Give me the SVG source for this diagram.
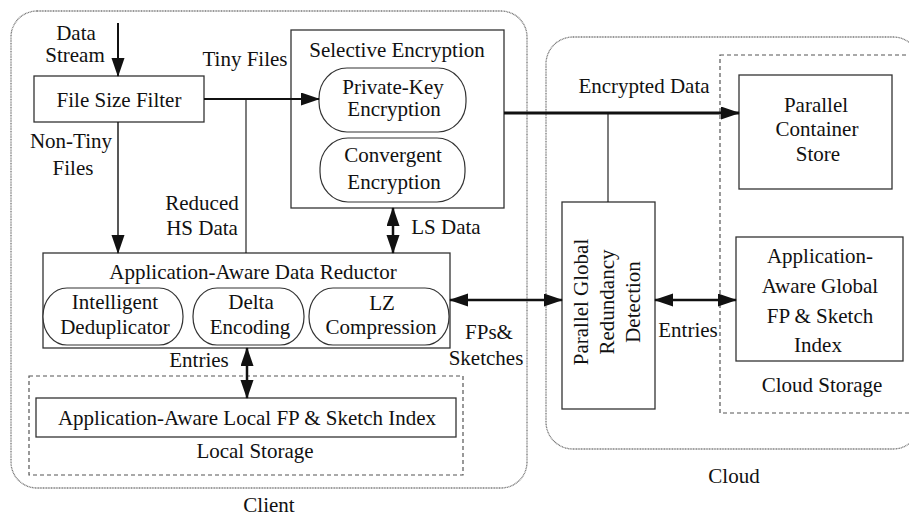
<svg xmlns="http://www.w3.org/2000/svg" width="909" height="517" viewBox="0 0 909 517">
<defs>
<style>
text{font-family:"Liberation Serif","Times New Roman",serif;font-size:21px;fill:#111;text-anchor:middle}
.box{fill:#fff;stroke:#333;stroke-width:1.3}
.pill{fill:#fff;stroke:#333;stroke-width:1.2}
.cont{fill:none;stroke:#777;stroke-width:1.3;stroke-dasharray:1 0.6}
.dash{fill:none;stroke:#555;stroke-width:1.2;stroke-dasharray:4 3}
.ln{fill:none;stroke:#111}
</style>
<marker id="ah" markerUnits="userSpaceOnUse" markerWidth="20" markerHeight="14" refX="18" refY="6.5" orient="auto-start-reverse">
<path d="M0,0 L19,6.5 L0,13 z" fill="#111"/>
</marker>
</defs>
<rect width="909" height="517" fill="#fff"/>

<g id="client">
<rect class="cont" x="11" y="11" width="516" height="477" rx="26"/>
<text x="269" y="512">Client</text>
</g>
<g id="cloud">
<rect class="cont" x="546" y="37" width="374" height="412" rx="27"/>
<text x="734" y="483">Cloud</text>
</g>

<g id="local-storage">
<rect class="dash" x="29" y="376" width="434" height="99"/>
<text x="255" y="458">Local Storage</text>
</g>
<g id="cloud-storage">
<rect class="dash" x="720" y="55" width="220" height="358"/>
<text x="822" y="392">Cloud Storage</text>
</g>

<g id="file-size-filter">
<rect class="box" x="34" y="76" width="170" height="46"/>
<text x="119" y="107">File Size Filter</text>
</g>

<g id="selective-encryption">
<rect class="box" x="291" y="30" width="213" height="178"/>
<text x="397" y="57">Selective Encryption</text>
</g>
<g id="private-key-encryption">
<rect class="pill" x="319" y="68" width="147" height="64" rx="28" ry="30"/>
<text x="393" y="94">Private-Key</text>
<text x="394" y="116">Encryption</text>
</g>
<g id="convergent-encryption">
<rect class="pill" x="320" y="138" width="145" height="64" rx="28" ry="30"/>
<text x="393" y="162">Convergent</text>
<text x="394" y="189">Encryption</text>
</g>

<g id="data-reductor">
<rect class="box" x="43" y="253" width="407" height="95"/>
<text x="253" y="279">Application-Aware Data Reductor</text>
</g>
<g id="intelligent-deduplicator">
<rect class="pill" x="43" y="288" width="140" height="57" rx="24" ry="28"/>
<text x="115" y="309">Intelligent</text>
<text x="115" y="334">Deduplicator</text>
</g>
<g id="delta-encoding">
<rect class="pill" x="193" y="288" width="111" height="57" rx="24" ry="28"/>
<text x="251" y="309">Delta</text>
<text x="250" y="334">Encoding</text>
</g>
<g id="lz-compression">
<rect class="pill" x="309" y="288" width="140" height="57" rx="24" ry="28"/>
<text x="382" y="310">LZ</text>
<text x="381" y="334">Compression</text>
</g>

<g id="local-index">
<rect class="box" x="36" y="398" width="420" height="39"/>
<text x="247" y="425">Application-Aware Local FP &amp; Sketch Index</text>
</g>

<g id="parallel-global-redundancy-detection">
<rect class="box" x="562" y="202" width="93" height="207"/>
<text transform="translate(608,302) rotate(-90)"><tspan x="0" y="-20">Parallel Global</tspan><tspan x="0" y="6">Redundancy</tspan><tspan x="0" y="32">Detection</tspan></text>
</g>

<g id="parallel-container-store">
<rect class="box" x="739" y="75" width="153" height="114"/>
<text x="816" y="112">Parallel</text>
<text x="817" y="136">Container</text>
<text x="818" y="161">Store</text>
</g>

<g id="global-index">
<rect class="box" x="736" y="237" width="167" height="124"/>
<text x="820" y="263">Application-</text>
<text x="820" y="293">Aware Global</text>
<text x="820" y="323">FP &amp; Sketch</text>
<text x="818" y="352">Index</text>
</g>

<g id="connectors">
<path class="ln" d="M118,23 L118,76" stroke-width="2" marker-end="url(#ah)"/>
<path class="ln" d="M204,99 L319,99" stroke-width="2" marker-end="url(#ah)"/>
<path class="ln" d="M246,99 L246,253" stroke-width="1.1"/>
<path class="ln" d="M118,122 L118,253" stroke-width="1.4" marker-end="url(#ah)"/>
<path class="ln" d="M393,208 L393,253" stroke-width="2.5" marker-start="url(#ah)" marker-end="url(#ah)"/>
<path class="ln" d="M504,113 L739,113" stroke-width="3" marker-end="url(#ah)"/>
<path class="ln" d="M608,113 L608,202" stroke-width="1.1"/>
<path class="ln" d="M450,300 L562,300" stroke-width="2.5" marker-start="url(#ah)" marker-end="url(#ah)"/>
<path class="ln" d="M655,300 L736,300" stroke-width="2.5" marker-start="url(#ah)" marker-end="url(#ah)"/>
<path class="ln" d="M247,348 L247,398" stroke-width="2.5" marker-start="url(#ah)" marker-end="url(#ah)"/>
<text x="76" y="40">Data</text>
<text x="75" y="62">Stream</text>
<text x="245" y="66">Tiny Files</text>
<text x="71" y="148">Non-Tiny</text>
<text x="73" y="175">Files</text>
<text x="202" y="210">Reduced</text>
<text x="202" y="235">HS Data</text>
<text x="446" y="234">LS Data</text>
<text x="644" y="93">Encrypted Data</text>
<text x="489" y="339">FPs&amp;</text>
<text x="486" y="365">Sketches</text>
<text x="199" y="367">Entries</text>
<text x="688" y="337">Entries</text>
</g>
</svg>
